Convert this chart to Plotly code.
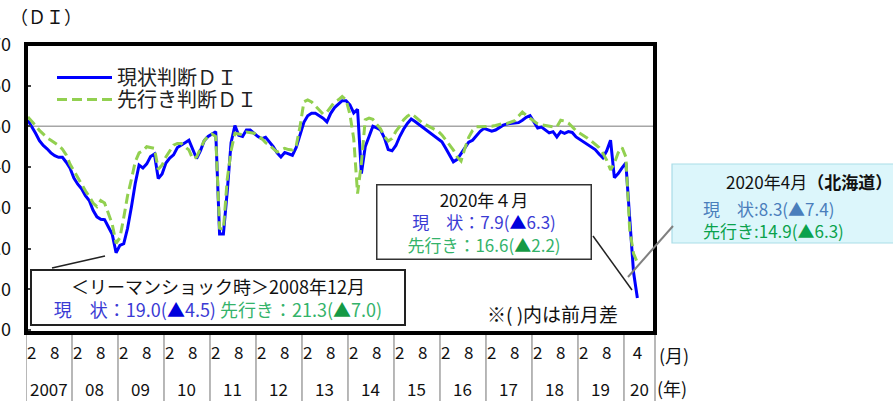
import plotly.graph_objects as go

# ---------------- data (monthly, Jan 2007 .. Apr 2020) ----------------
years = ["2007", "08", "09", "10", "11", "12", "13", "14", "15", "16", "17", "18", "19", "20"]
month_tick_labels = ["2", "8"]          # months labelled each full year
last_year_tick = "4"                     # only April labelled in 2020

genjo = [  # 現状判断DI
    51.5, 50.0, 48.3, 46.5, 45.3, 44.5, 43.5, 42.8, 42.4, 42.4, 41.2, 39.7,
    37.3, 35.8, 34.7, 33.0, 31.8, 29.4, 27.8, 27.2, 27.1, 25.3, 23.5, 19.0,
    20.8, 21.2, 25.0, 30.2, 36.0, 40.5, 39.8, 40.8, 42.6, 43.2, 37.2, 38.3,
    41.0, 42.2, 43.0, 44.8, 45.5, 46.0, 46.6, 44.3, 42.1, 44.0, 46.5, 47.5,
    48.2, 48.7, 23.6, 23.6, 34.0, 46.0, 50.2, 47.8, 47.5, 49.1, 49.1, 48.2,
    47.5, 47.0, 47.3, 46.2, 45.0, 43.5, 42.5, 43.6, 43.2, 42.9, 44.8, 48.0,
    51.0, 52.6, 53.2, 53.2, 52.7, 52.0, 51.1, 53.2, 54.6, 55.5, 56.3, 56.3,
    55.3, 53.3, 54.2, 38.4, 45.0, 47.5, 50.0, 49.6, 49.1, 47.2, 44.3, 44.0,
    45.3, 47.5, 49.3, 50.7, 51.8, 51.2, 50.5, 49.8, 49.0, 48.3, 47.5, 46.9,
    46.2, 44.6, 43.0, 41.3, 41.9, 43.3, 44.6, 46.1, 46.6, 47.7, 48.8, 49.5,
    49.1, 48.8, 49.1, 49.7, 50.3, 50.6, 50.7, 50.7, 50.9, 51.5, 52.2, 52.6,
    51.0, 49.6, 49.8, 49.1, 48.4, 48.7, 47.4, 48.7, 48.3, 48.7, 48.5, 47.4,
    46.8, 46.3, 45.5, 45.0, 44.3, 43.2, 42.3, 44.0, 46.6, 37.4, 38.4, 39.8,
    41.0, 27.4, 14.2, 7.9,
]
sakiyuki = [  # 先行き判断DI
    52.3, 51.3, 50.2, 49.0, 48.0, 47.2, 46.6, 46.0, 45.3, 44.4, 43.0, 40.7,
    39.0, 37.3, 35.8, 34.2, 32.8, 31.2, 30.3, 31.8, 31.2, 28.6, 26.0, 21.3,
    22.7, 27.6, 33.0, 37.0, 41.3, 43.5, 44.0, 45.0, 44.8, 44.6, 39.5, 40.5,
    42.5, 44.0, 45.4, 45.8, 45.8, 45.0, 44.2, 42.0, 42.5, 44.5, 46.5, 47.6,
    48.1, 47.5, 25.0, 24.7, 37.0, 44.0, 48.3, 48.1, 48.0, 48.6, 48.4, 48.3,
    47.5, 47.0, 46.0, 45.4, 44.5, 43.7, 44.2, 44.6, 44.3, 44.2, 45.3, 50.0,
    56.0, 56.5, 56.0, 55.0, 54.0, 53.0, 53.5, 54.8, 56.0, 56.5, 57.3, 56.5,
    53.0, 47.0, 33.5, 41.0, 51.6, 52.0, 51.7, 50.5, 49.4, 47.5, 46.4, 47.0,
    48.8, 50.0, 51.6, 52.5, 53.1, 52.4, 51.6, 50.8, 50.3, 49.8, 49.3, 48.8,
    47.9, 46.6, 45.3, 44.2, 42.5, 41.5, 44.6, 47.3, 49.0, 49.9, 49.9, 49.9,
    49.9, 50.0, 50.2, 50.4, 50.7, 50.7, 51.1, 51.4, 52.5, 53.5, 52.7, 52.0,
    51.2, 50.6, 50.4, 50.2, 50.0, 49.9, 49.9, 51.5, 51.3, 50.8, 49.9, 48.9,
    48.3, 47.8, 47.1, 46.4, 45.7, 44.8, 43.4, 41.7, 39.3, 41.0, 43.5, 44.8,
    42.5, 24.6, 18.8, 16.6,
]
month_idx = list(range(len(genjo)))      # 0 = 2007年1月

# ---------------- layout helpers ----------------
W, H = 893, 401
ML, MR, MT, MB = 26, 238, 44, 68
PW, PH = W - ML - MR, H - MT - MB
X_MAX = 163.6


def px(x):
    return (x - ML) / PW


def py(y):
    return (H - MB - y) / PH


FONT = "Noto Sans CJK JP"
BLUE_T = "#3b3bd4"
GREEN_T = "#34b36a"

fig = go.Figure()
fig.add_trace(go.Scatter(x=month_idx, y=genjo, mode="lines", name="現状判断ＤＩ",
                         line=dict(color="#0000ff", width=3), legend="legend"))
fig.add_trace(go.Scatter(x=month_idx, y=sakiyuki, mode="lines", name="先行き判断ＤＩ",
                         line=dict(color="#92d050", width=3, dash="10px,5px"), legend="legend2"))

# month ticks
tickvals, ticktext = [], []
for k, _ in enumerate(years[:-1]):
    for m in month_tick_labels:
        tickvals.append(12 * k + int(m) - 1)
        ticktext.append(m)
tickvals.append(12 * (len(years) - 1) + int(last_year_tick) - 1)
ticktext.append(last_year_tick)

shapes = []
annotations = []
# gridline at 50
shapes.append(dict(type="line", xref="paper", yref="y", x0=0, x1=1, y0=50, y1=50,
                   line=dict(color="#a6a6a6", width=1.5), layer="below"))
# table lines below the plot + year labels
for k, yr in enumerate(years):
    x0 = 12 * k - 0.5
    x1 = min(12 * k + 11.5, X_MAX)
    shapes.append(dict(type="line", xref="x", yref="paper", x0=x0, x1=x0, y0=0, y1=-0.35,
                       line=dict(color="#a0a0a0", width=1.5)))
    annotations.append(dict(x=(x0 + x1) / 2, y=py(388), xref="x", yref="paper", text=yr,
                            showarrow=False, font=dict(size=17, color="#111"),
                            xanchor="center", yanchor="middle"))
shapes.append(dict(type="line", xref="paper", yref="paper", x0=1, x1=1, y0=0, y1=-0.35,
                   line=dict(color="#a0a0a0", width=1.5)))
# frame
shapes.append(dict(type="rect", xref="paper", yref="paper", x0=0, x1=1, y0=0, y1=1,
                   line=dict(color="black", width=4), layer="above"))

# unit labels
annotations.append(dict(x=px(657), y=py(355), xref="paper", yref="paper", text="(月)",
                        showarrow=False, font=dict(size=18, color="#111"), xanchor="left", yanchor="middle"))
annotations.append(dict(x=px(655), y=py(388), xref="paper", yref="paper", text="(年)",
                        showarrow=False, font=dict(size=18, color="#111"), xanchor="left", yanchor="middle"))
# y title
annotations.append(dict(x=px(8), y=py(16), xref="paper", yref="paper", text="（ＤＩ）",
                        showarrow=False, font=dict(size=18, color="#111"), xanchor="left", yanchor="middle"))

# Lehman box
lehman = ("＜リーマンショック時＞2008年12月<br>"
          f"<span style='color:{BLUE_T}'>現　状：19.0(<span style='color:#0000dd'>▲</span>4.5)</span> "
          f"<span style='color:{GREEN_T}'>先行き：21.3(<span style='color:#159a45'>▲</span>7.0)</span>")
annotations.append(dict(x=px(30), y=py(269), xref="paper", yref="paper", text=lehman,
                        showarrow=False, xanchor="left", yanchor="top", align="center",
                        width=372, height=53, borderpad=0, bordercolor="#222", borderwidth=2,
                        bgcolor="white", font=dict(size=18, color="#111")))
shapes.append(dict(type="line", xref="paper", yref="paper", x0=px(52), y0=py(268), x1=px(105), y1=py(256),
                   line=dict(color="#222", width=1.5), layer="above"))

# 2020 box
box20 = ("2020年４月<br>"
         f"<span style='color:{BLUE_T}'>現　状：7.9(<span style='color:#0000dd'>▲</span>6.3)</span><br>"
         f"<span style='color:{GREEN_T}'>先行き：16.6(<span style='color:#159a45'>▲</span>2.2)</span>")
annotations.append(dict(x=px(376), y=py(184), xref="paper", yref="paper", text=box20,
                        showarrow=False, xanchor="left", yanchor="top", align="center",
                        width=213, height=73, borderpad=0, bordercolor="#333", borderwidth=1.5,
                        bgcolor="white", font=dict(size=17, color="#111")))
shapes.append(dict(type="line", xref="paper", yref="paper", x0=px(593), y0=py(236), x1=px(632), y1=py(290),
                   line=dict(color="#222", width=1.5), layer="above"))

# Hokkaido box
shapes.append(dict(type="rect", xref="paper", yref="paper", x0=px(672), x1=px(905), y0=py(164), y1=py(243),
                   fillcolor="#dcf6fb", line=dict(color="#a9dde8", width=1.2), layer="above"))
shapes.append(dict(type="line", xref="paper", yref="paper", x0=px(673), y0=py(226), x1=px(628), y1=py(277),
                   line=dict(color="#808080", width=2), layer="above"))
annotations.append(dict(x=px(725), y=py(195), xref="paper", yref="paper",
                        text="2020年4月<b>（北海道）</b>", showarrow=False, xanchor="left", yanchor="bottom",
                        borderpad=0, font=dict(size=17, color="#111")))
annotations.append(dict(x=px(702), y=py(195), xref="paper", yref="paper",
                        text=("<span style='color:#4a7ebb'>現　状:8.3(▲7.4)</span><br>"
                              "<span style='color:#0aa24c'>先行き:14.9(▲6.3)</span>"),
                        showarrow=False, xanchor="left", yanchor="top", align="left",
                        borderpad=0, font=dict(size=17, color="#4a7ebb")))

# note
annotations.append(dict(x=px(552), y=py(313), xref="paper", yref="paper", text="※( )内は前月差",
                        showarrow=False, xanchor="center", yanchor="middle", font=dict(size=19, color="#111")))

legend_common = dict(xanchor="left", yanchor="top", bgcolor="rgba(0,0,0,0)",
                     font=dict(size=20, color="#222"), itemwidth=55)
fig.update_layout(
    template="none",
    width=W, height=H,
    margin=dict(l=ML, r=MR, t=MT, b=MB, pad=0),
    paper_bgcolor="white", plot_bgcolor="white",
    font=dict(family=FONT, color="#111"),
    showlegend=True,
    legend=dict(x=px(52), y=py(58), **legend_common),
    legend2=dict(x=px(52), y=py(80), **legend_common),
    xaxis=dict(range=[-0.5, X_MAX], tickvals=tickvals, ticktext=ticktext, ticks="",
               showgrid=False, zeroline=False, showline=False, automargin=False,
               tickfont=dict(size=17, color="#111"), ticklabelstandoff=8),
    yaxis=dict(range=[-0.7, 70.2], tickvals=list(range(0, 71, 10)), ticks="inside", ticklen=5,
               tickwidth=1.5, tickcolor="#444", showgrid=False, zeroline=False, showline=False,
               automargin=False, tickfont=dict(size=18, color="#111"), ticklabelstandoff=14),
    shapes=shapes, annotations=annotations,
)

fig.write_html("out.html")
